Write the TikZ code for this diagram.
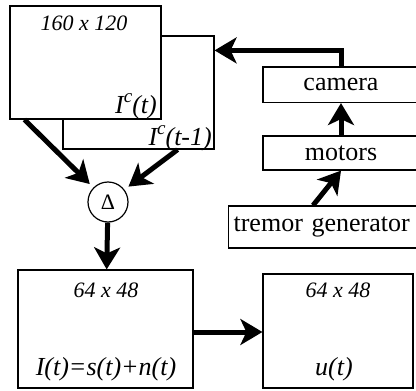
\documentclass[tikz,border=0pt]{standalone}
\usepackage{fontspec}
\setmainfont{Liberation Serif}
\usepackage{tikz}
\usetikzlibrary{shapes.geometric, positioning, arrows.meta, calc}

\newcommand{\supc}{\raisebox{0.42em}{\fontsize{19}{19}\selectfont c}}

\begin{document}
\begin{tikzpicture}[
        x=1pt, y=-1pt,
        font=\fontsize{26}{30}\selectfont,
        % Styles for nodes
        frame/.style={
            rectangle, draw, line width=1.2pt, fill=white,
            minimum width=151pt, minimum height=113pt
        },
        device/.style={
            rectangle, draw, line width=1.2pt, fill=white,
            minimum width=156pt, inner xsep=5pt
        },
        sizelabel/.style={
            font=\fontsize{22}{26}\selectfont\itshape, inner sep=0pt
        },
        signal/.style={
            font=\fontsize{26}{30}\selectfont\itshape, inner sep=0pt, anchor=base
        },
        diffop/.style={
            circle, draw, line width=1.2pt, fill=white,
            minimum size=40pt, inner sep=0pt,
            font=\fontsize{22}{26}\selectfont
        },
        % Style for the thick arrows
        flow/.style={
            draw, line width=5pt,
            -{Stealth[length=22pt, width=26pt, inset=6pt]}
        }
    ]

    \useasboundingbox (0,0) rectangle (416,391);
    \clip (0,0) rectangle (416,391);

    % 1. IMAGE FRAMES
    \node[frame] (back)  at (138.5, 92.5) {};
    \node[frame] (front) at (85.5, 62.5)  {};

    \node[sizelabel] (frontsize) at (84, 23) {160 x 120};
    \node[signal, anchor=base east] (frontsig) at (157, 113) {I\supc(t)};
    \node[signal, anchor=base east] (backsig)  at (212, 145) {I\supc(t-1)};

    % 2. DIFFERENCE AND OUTPUT BLOCKS
    \node[diffop] (delta) at (108, 202) {Δ};

    \node[frame, minimum width=175pt, minimum height=118pt] (noisy) at (105.5, 329) {};
    \node[frame, minimum width=150pt, minimum height=114pt] (est)   at (338, 331)   {};

    \node[sizelabel] (noisysize) at (106, 290) {64 x 48};
    \node[signal]    (noisysig)  at (106, 375) {I(t)=s(t)+n(t)};
    \node[sizelabel] (estsize)   at (338, 290) {64 x 48};
    \node[signal]    (estsig)    at (334, 375) {u(t)};

    % 3. CAMERA CHAIN
    \node[device, minimum height=35.5pt] (cam) at (341, 84.7) {camera};
    \node[device, minimum height=34pt]   (mot) at (341, 153)  {motors};
    \node[device, minimum height=42pt, anchor=west, text width=185pt, align=left]
        (trem) at (228, 227) {tremor generator};

    % 4. ARROWS
    \coordinate (camin)     at ($(back.north east)+(0,15)$);
    \coordinate (tremout)   at ($(trem.north west)+(85,0)$);
    \coordinate (fronttail) at ($(front.south west)+(15,0)$);
    \coordinate (backtail)  at ($(back.south east)+(-37,0)$);
    \coordinate (link)      at ($(noisy.east)+(0,3)$);

    \draw[flow] (cam.north) |- (camin);
    \draw[flow] (mot) -- (cam);
    \draw[flow] (tremout) -- (mot.south);

    \draw[flow, shorten >=5pt] (fronttail) -- (delta);
    \draw[flow, shorten >=5pt] (backtail) -- (delta);
    \draw[flow] (delta) -- (noisy);
    \draw[flow] (link) -- (link -| est.west);

\end{tikzpicture}
\end{document}
